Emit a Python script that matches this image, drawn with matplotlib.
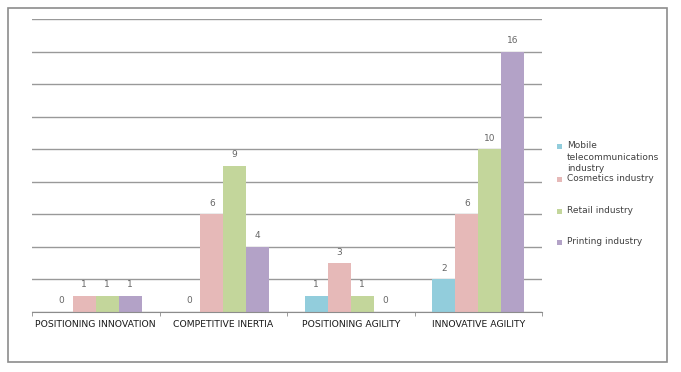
import numpy as np
import matplotlib.pyplot as plt
from matplotlib.patches import Rectangle

# Datos del grafico
categorias = ["POSITIONING INNOVATION", "COMPETITIVE INERTIA",
              "POSITIONING AGILITY", "INNOVATIVE AGILITY"]
series = ["Mobile\ntelecommunications\nindustry", "Cosmetics industry",
          "Retail industry", "Printing industry"]
movil = [0, 0, 1, 2]
cosmetica = [1, 6, 3, 6]
retail = [1, 9, 1, 10]
imprenta = [1, 4, 0, 16]

valores = [movil, cosmetica, retail, imprenta]
colores = ["#92CDDC", "#E6B9B8", "#C3D69B", "#B3A2C7"]

fig = plt.figure(figsize=(6.81, 3.72), dpi=100)
# marco exterior del grafico
fig.patches.append(Rectangle((8 / 681, 1 - 362 / 372), 659 / 681, 354 / 372,
                             transform=fig.transFigure, fill=False,
                             edgecolor="#8c8c8c", linewidth=1.2))

ax = fig.add_axes([32 / 681, 1 - 312 / 372, 510 / 681, 293 / 372])

x = np.arange(len(categorias))
ancho = 0.18
for i, (vals, color) in enumerate(zip(valores, colores)):
    pos = x + (i - 1.5) * ancho
    barras = ax.bar(pos, vals, width=ancho, color=color, zorder=2)
    for b, v in zip(barras, vals):
        ax.text(b.get_x() + b.get_width() / 2, v + 0.4, str(v),
                ha="center", va="bottom", fontsize=6.5, color="#666666")

ax.set_xlim(-0.5, 3.5)
ax.set_ylim(0, 18)
ax.set_yticks(np.arange(0, 19, 2))
ax.set_yticklabels([])
ax.tick_params(axis="y", length=0)
ax.yaxis.grid(True, color="#999999", linewidth=1.0, zorder=0)
ax.set_axisbelow(True)

ax.set_xticks(x)
ax.set_xticklabels(categorias, fontsize=6.7, color="#1a1a1a")
ax.tick_params(axis="x", length=0, pad=6)
ax.set_xticks(np.arange(-0.5, 4, 1), minor=True)
ax.tick_params(axis="x", which="minor", length=3, color="#8c8c8c", direction="out")

for lado in ["left", "right", "top"]:
    ax.spines[lado].set_visible(False)
ax.spines["bottom"].set_color("#8c8c8c")

# leyenda hecha a mano, cada entrada en su hueco como en Excel
leyenda_y = [146, 179, 211, 242]
for nombre, color, yp in zip(series, colores, leyenda_y):
    fig.patches.append(Rectangle((557 / 681, 1 - (yp + 2.5) / 372), 5 / 681, 5 / 372,
                                 transform=fig.transFigure, facecolor=color,
                                 edgecolor="none"))
    fig.text(567 / 681, 1 - (yp - 5) / 372, nombre, fontsize=6.5, color="#404040",
             ha="left", va="top", linespacing=1.38)

fig.savefig("out.png", dpi=100)
